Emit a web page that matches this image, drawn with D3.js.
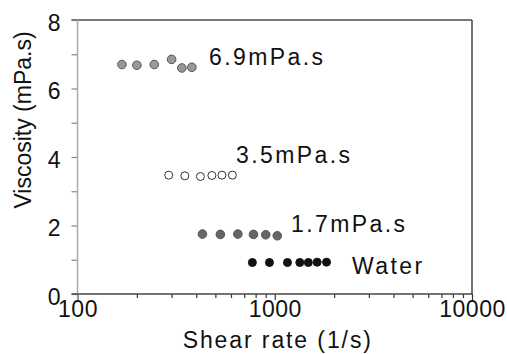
<!DOCTYPE html>
<html><head><meta charset="utf-8">
<script src="https://cdn.jsdelivr.net/npm/d3@7"></script>
<style>html,body{margin:0;padding:0;background:#fff;}svg{display:block;}</style>
</head><body>
<svg id="c" width="507" height="354"></svg>
<script>
// ---- data ----
const rate69 = [168, 200, 245, 300, 338, 380];
const visc69 = [6.70, 6.68, 6.70, 6.85, 6.60, 6.62];
const rate35 = [290, 350, 420, 480, 540, 610];
const visc35 = [3.47, 3.45, 3.43, 3.46, 3.47, 3.47];
const rate17 = [430, 530, 650, 780, 900, 1030];
const visc17 = [1.75, 1.74, 1.75, 1.74, 1.73, 1.70];
const rateW = [770, 940, 1160, 1340, 1480, 1640, 1830];
const viscW = [0.92, 0.92, 0.92, 0.92, 0.92, 0.93, 0.93];
const seriesLabels = ["6.9mPa.s", "3.5mPa.s", "1.7mPa.s", "Water"];
const xTickLabels = ["100", "1000", "10000"];
const yTickLabels = ["0", "2", "4", "6", "8"];
const xTitle = "Shear rate (1/s)";
const yTitle = "Viscosity (mPa.s)";

const svg = d3.select("#c");
const L = 77.5, R = 472, T = 20, B = 294;
const x = d3.scaleLog().domain([100, 10000]).range([L, R]);
const y = d3.scaleLinear().domain([0, 8]).range([B, T]);
const font = "'Liberation Sans', Arial, sans-serif";

// y axis ticks
const yAxis = d3.axisLeft(y).tickValues(d3.range(0, 9, 1)).tickSize(6)
  .tickFormat(d => yTickLabels.includes(String(d)) ? String(d) : "");
const gy = svg.append("g").attr("transform", `translate(${L},0)`).call(yAxis);
gy.select(".domain").remove();
gy.selectAll("line").attr("stroke", "#888").attr("stroke-width", 1.2);
gy.selectAll("text").attr("font-family", font).attr("font-size", 23)
  .attr("fill", "#111").attr("x", -17).attr("dy", "10px");

// x axis
const minor = [];
[100, 1000].forEach(b => { for (let k = 2; k <= 9; k++) minor.push(b * k); });
const gxm = svg.append("g").attr("transform", `translate(0,${B})`)
  .call(d3.axisBottom(x).tickValues(minor).tickSize(4).tickFormat(""));
gxm.select(".domain").remove();
gxm.selectAll("line").attr("stroke", "#333").attr("stroke-width", 1.2);
const gx = svg.append("g").attr("transform", `translate(0,${B})`)
  .call(d3.axisBottom(x).tickValues(xTickLabels.map(Number)).tickSize(6)
    .tickFormat((d, i) => xTickLabels[i]));
gx.select(".domain").remove();
gx.selectAll("line").attr("stroke", "#333").attr("stroke-width", 1.2);
gx.selectAll("text").attr("font-family", font).attr("font-size", 23)
  .attr("fill", "#111").attr("y", 0).attr("dy", "23px").attr("letter-spacing", 0.5);

// frame
svg.append("line").attr("x1", L - 6).attr("x2", R).attr("y1", T).attr("y2", T)
  .attr("stroke", "#777").attr("stroke-width", 2);
svg.append("line").attr("x1", L).attr("x2", L).attr("y1", T).attr("y2", B + 6)
  .attr("stroke", "#aaa").attr("stroke-width", 1.5);
svg.append("line").attr("x1", R).attr("x2", R).attr("y1", T).attr("y2", B)
  .attr("stroke", "#444").attr("stroke-width", 1.5);
svg.append("line").attr("x1", L - 6).attr("x2", R).attr("y1", B).attr("y2", B)
  .attr("stroke", "#444").attr("stroke-width", 1.5);

// titles
svg.append("text").attr("x", x(1000) + 3).attr("y", 348).attr("text-anchor", "middle")
  .attr("font-family", font).attr("font-size", 23).attr("letter-spacing", 1.9)
  .attr("fill", "#111").text(xTitle);
svg.append("text").attr("transform", "translate(31,120) rotate(-90)").attr("text-anchor", "middle")
  .attr("font-family", font).attr("font-size", 23)
  .attr("fill", "#111").text(yTitle);

// series
const series = [
  {r: rate69, v: visc69, fill: "#999", stroke: "#555", rad: 4.3},
  {r: rate35, v: visc35, fill: "#fff", stroke: "#333", rad: 4.0},
  {r: rate17, v: visc17, fill: "#666", stroke: "#555", rad: 4.3},
  {r: rateW, v: viscW, fill: "#111", stroke: "#111", rad: 4.0}
];
series.forEach(s => {
  svg.append("g").selectAll("circle").data(s.r.map((r, i) => [r, s.v[i]])).join("circle")
    .attr("cx", d => x(d[0])).attr("cy", d => y(d[1])).attr("r", s.rad)
    .attr("fill", s.fill).attr("stroke", s.stroke).attr("stroke-width", 1);
});

// series labels
const labelPos = [[209, 65], [236, 163], [291, 232], [352, 274]];
seriesLabels.forEach((t, i) => {
  svg.append("text").attr("x", labelPos[i][0]).attr("y", labelPos[i][1])
    .attr("font-family", font).attr("font-size", 23).attr("letter-spacing", 2.4)
    .attr("fill", "#111").text(t);
});
</script>
</body></html>
